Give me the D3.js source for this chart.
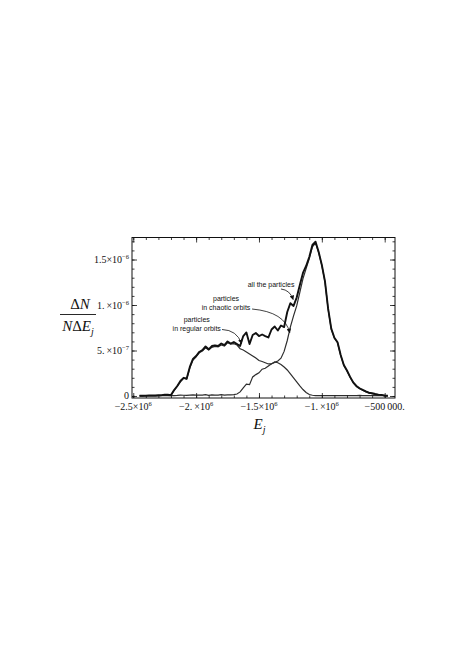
<!DOCTYPE html>
<html><head><meta charset="utf-8">
<script src="https://cdn.jsdelivr.net/npm/d3@7"></script>
<style>body{margin:0;background:#fff}svg{display:block}</style>
</head><body><svg id="c" width="463" height="655"></svg>
<script>
// bin centres E_j
const energy = [-2450000,-2425000,-2400000,-2375000,-2350000,-2325000,-2300000,-2275000,-2250000,-2225000,
-2200000,-2175000,-2150000,-2125000,-2100000,-2075000,-2050000,-2025000,-2000000,-1975000,
-1950000,-1925000,-1900000,-1875000,-1850000,-1825000,-1800000,-1775000,-1750000,-1725000,
-1700000,-1675000,-1650000,-1625000,-1600000,-1575000,-1550000,-1525000,-1500000,-1475000,
-1450000,-1425000,-1400000,-1375000,-1350000,-1325000,-1300000,-1275000,-1250000,-1225000,
-1200000,-1175000,-1150000,-1125000,-1100000,-1075000,-1050000,-1025000,-1000000,-975000,
-950000,-925000,-900000,-875000,-850000,-825000,-800000,-775000,-750000,-725000,
-700000,-675000,-650000,-625000,-600000,-575000,-550000,-525000,-500000,-475000];
// ΔN/(NΔE_j) in units of 1e-7
const allParticles = [0.02,0.03,0.04,0.05,0.06,0.06,0.09,0.09,0.13,0.13,
0.1,0.66,1.1,1.65,2.0,1.92,3.2,4.07,4.4,4.84,
5.05,5.44,5.13,5.49,5.57,5.49,5.77,5.6,5.99,5.77,
5.93,5.71,5.49,6.59,6.98,5.71,6.7,6.92,6.59,6.76,
6.59,6.43,7.31,7.64,7.2,7.75,7.58,9.23,10.2,9.9,
10.82,12.2,13.52,14.29,15.27,16.6,16.95,15.82,14.4,12.6,
9.6,7.4,6.4,5.9,4.5,3.4,2.8,2.1,1.5,1.1,
0.85,0.68,0.5,0.36,0.3,0.22,0.15,0.12,0.05,0.02];
const chaoticOrbits = [0.01,0.01,0.02,0.02,0.03,0.02,0.04,0.03,0.05,0.06,
0.04,0.05,0.06,0.1,0.08,0.07,0.1,0.12,0.1,0.09,
0.1,0.14,0.08,0.12,0.1,0.09,0.15,0.1,0.13,0.12,
0.16,0.22,0.45,0.9,1.3,1.25,2.1,2.35,2.55,2.95,
3.05,3.3,3.55,3.7,3.85,4.15,4.9,6.1,7.6,8.8,
9.9,11.4,12.9,14.0,15.1,16.4,16.8,15.75,14.35,12.55,
9.55,7.35,6.35,5.85,4.45,3.35,2.75,2.05,1.45,1.05,
0.8,0.63,0.45,0.32,0.25,0.17,0.1,0.08,0.02,0.0];
const regularOrbits = [0.01,0.02,0.02,0.03,0.03,0.04,0.05,0.06,0.08,0.07,
0.05,0.6,1.05,1.55,1.95,1.85,3.1,3.95,4.3,4.75,
4.95,5.3,5.05,5.35,5.45,5.4,5.6,5.5,5.85,5.7,
5.75,5.6,5.2,5.05,4.84,4.62,4.4,4.18,3.9,3.79,
3.66,3.52,3.52,3.74,3.66,3.46,3.19,2.86,2.42,1.98,
1.54,1.1,0.71,0.38,0.16,0.08,0.05,0.04,0.05,0.04,
0.05,0.04,0.05,0.05,0.04,0.05,0.05,0.04,0.05,0.05,
0.06,0.05,0.05,0.04,0.05,0.05,0.04,0.05,0.03,0.02];

const xTickValues = [-2500000,-2000000,-1500000,-1000000,-500000];
const xTickMant = ["\u22122.5\u00d710","\u22122.\u2009\u00d710","\u22121.5\u00d710","\u22121.\u2009\u00d710","\u2212500\u2009000."];
const xTickExp = ["6","6","6","6",""];
const yTickValues = [0,5,10,15];
const yTickMant = ["0","5.\u2009\u00d710","1.\u2009\u00d710","1.5\u00d710"];
const yTickExp = ["","\u22127","\u22126","\u22126"];
const xMinor = [-2500000,-2400000,-2300000,-2200000,-2100000,-2000000,-1900000,-1800000,-1700000,-1600000,-1500000,-1400000,-1300000,-1200000,-1100000,-1000000,-900000,-800000,-700000,-600000,-500000];
const yMinor = [0,1,2,3,4,5,6,7,8,9,10,11,12,13,14,15,16,17];

const svg = d3.select("#c");
const L = 132, R = 395, T = 237.5, B = 398;
const x = d3.scaleLinear().domain([-2510000,-418000]).range([L,R]);
const y = d3.scaleLinear().domain([-0.22,17.42]).range([B,T]);

svg.append("defs").append("marker").attr("id","ah").attr("viewBox","0 0 10 10")
  .attr("refX",9).attr("refY",5).attr("markerWidth",5).attr("markerHeight",4.5)
  .attr("markerUnits","userSpaceOnUse").attr("orient","auto")
  .append("path").attr("d","M0,0L10,5L0,10z").attr("fill","#111");

// curves
const line = d3.line().x((d,i)=>x(energy[i])).y(d=>y(d));
svg.append("path").datum(regularOrbits).attr("d",line).attr("fill","none").attr("stroke","#2e2e2e").attr("stroke-width",1.2);
svg.append("path").datum(chaoticOrbits).attr("d",line).attr("fill","none").attr("stroke","#2e2e2e").attr("stroke-width",1.2);
svg.append("path").datum(allParticles).attr("d",line).attr("fill","none").attr("stroke","#111").attr("stroke-width",1.9).attr("stroke-linejoin","round");

// frame and ticks
function tickSet(axisFn, vals, size, tr){
  svg.append("g").attr("transform",tr)
    .call(axisFn.tickValues(vals).tickSize(size).tickFormat(""))
    .call(g=>{g.select(".domain").remove(); g.selectAll("line").attr("stroke","#111").attr("stroke-width",0.8);});
}
tickSet(d3.axisBottom(x), xMinor, -2.5, `translate(0,${B})`);
tickSet(d3.axisBottom(x), xTickValues, -5, `translate(0,${B})`);
tickSet(d3.axisTop(x), xMinor, -2.5, `translate(0,${T})`);
tickSet(d3.axisTop(x), xTickValues, -5, `translate(0,${T})`);
tickSet(d3.axisLeft(y), yMinor, -2.5, `translate(${L},0)`);
tickSet(d3.axisLeft(y), yTickValues, -5, `translate(${L},0)`);
tickSet(d3.axisRight(y), yMinor, -2.5, `translate(${R},0)`);
tickSet(d3.axisRight(y), yTickValues, -5, `translate(${R},0)`);
svg.append("rect").attr("x",L).attr("y",T).attr("width",R-L).attr("height",B-T)
  .attr("fill","none").attr("stroke","#111").attr("stroke-width",1);

const serif = "'Liberation Serif','Times New Roman',serif";
// x tick labels
xTickValues.forEach((v,i)=>{
  const t = svg.append("text").attr("x",x(v)).attr("y",B+12).attr("text-anchor","middle")
    .attr("font-family",serif).attr("font-size",10).attr("fill","#111");
  t.append("tspan").text(xTickMant[i]);
  if(xTickExp[i]) t.append("tspan").attr("dy",-4).attr("font-size",6.5).text(xTickExp[i]);
});
// y tick labels
yTickValues.forEach((v,i)=>{
  const t = svg.append("text").attr("x",L-3).attr("y",y(v)+3.5).attr("text-anchor","end")
    .attr("font-family",serif).attr("font-size",10).attr("fill","#111");
  t.append("tspan").text(yTickMant[i]);
  if(yTickExp[i]) t.append("tspan").attr("dy",-4).attr("font-size",6.5).text(yTickExp[i]);
});

// axis labels
const xl = svg.append("text").attr("x",(L+R)/2-4).attr("y",429).attr("text-anchor","middle")
  .attr("font-family",serif).attr("font-size",15).attr("fill","#111");
xl.append("tspan").attr("font-style","italic").text("E");
xl.append("tspan").attr("font-style","italic").attr("font-size",10).attr("dy",4).text("j");

const fx = 78;
const yl1 = svg.append("text").attr("x",fx+2).attr("y",309).attr("text-anchor","middle")
  .attr("font-family",serif).attr("font-size",15).attr("fill","#111");
yl1.append("tspan").text("\u0394");
yl1.append("tspan").attr("font-style","italic").text("N");
svg.append("line").attr("x1",fx-18).attr("x2",fx+18).attr("y1",314.5).attr("y2",314.5)
  .attr("stroke","#111").attr("stroke-width",0.9);
const yl2 = svg.append("text").attr("x",fx).attr("y",331).attr("text-anchor","middle")
  .attr("font-family",serif).attr("font-size",15).attr("fill","#111");
yl2.append("tspan").attr("font-style","italic").text("N");
yl2.append("tspan").text("\u0394");
yl2.append("tspan").attr("font-style","italic").text("E");
yl2.append("tspan").attr("font-style","italic").attr("font-size",10).attr("dy",4).text("j");

// annotations (data coordinates)
const sans = "'Liberation Sans',Arial,sans-serif";
const notes = [
  {lines:["all the particles"], ex:-1404000, ey:12.03},
  {lines:["particles","in chaotic orbits"], ex:-1762000, ey:10.44},
  {lines:["particles","in regular orbits"], ex:-1995000, ey:8.1}
];
notes.forEach(n=>{
  n.lines.forEach((s,k)=>{
    svg.append("text").attr("x",x(n.ex)).attr("y",y(n.ey)+k*8.5).attr("text-anchor","middle")
      .attr("font-family",sans).attr("font-size",7).attr("fill","#111").text(s);
  });
});
const arrows = [
  [[-1325000,11.76],[-1253000,11.65],[-1228000,10.6]],
  [[-1555000,9.56],[-1293000,9.23],[-1255000,6.95]],
  [[-1794000,7.31],[-1675000,7.25],[-1638000,5.75]]
];
arrows.forEach(a=>{
  const p = d3.path();
  p.moveTo(x(a[0][0]),y(a[0][1]));
  p.quadraticCurveTo(x(a[1][0]),y(a[1][1]),x(a[2][0]),y(a[2][1]));
  svg.append("path").attr("d",p.toString()).attr("fill","none").attr("stroke","#111")
    .attr("stroke-width",0.8).attr("marker-end","url(#ah)");
});
</script></body></html>
